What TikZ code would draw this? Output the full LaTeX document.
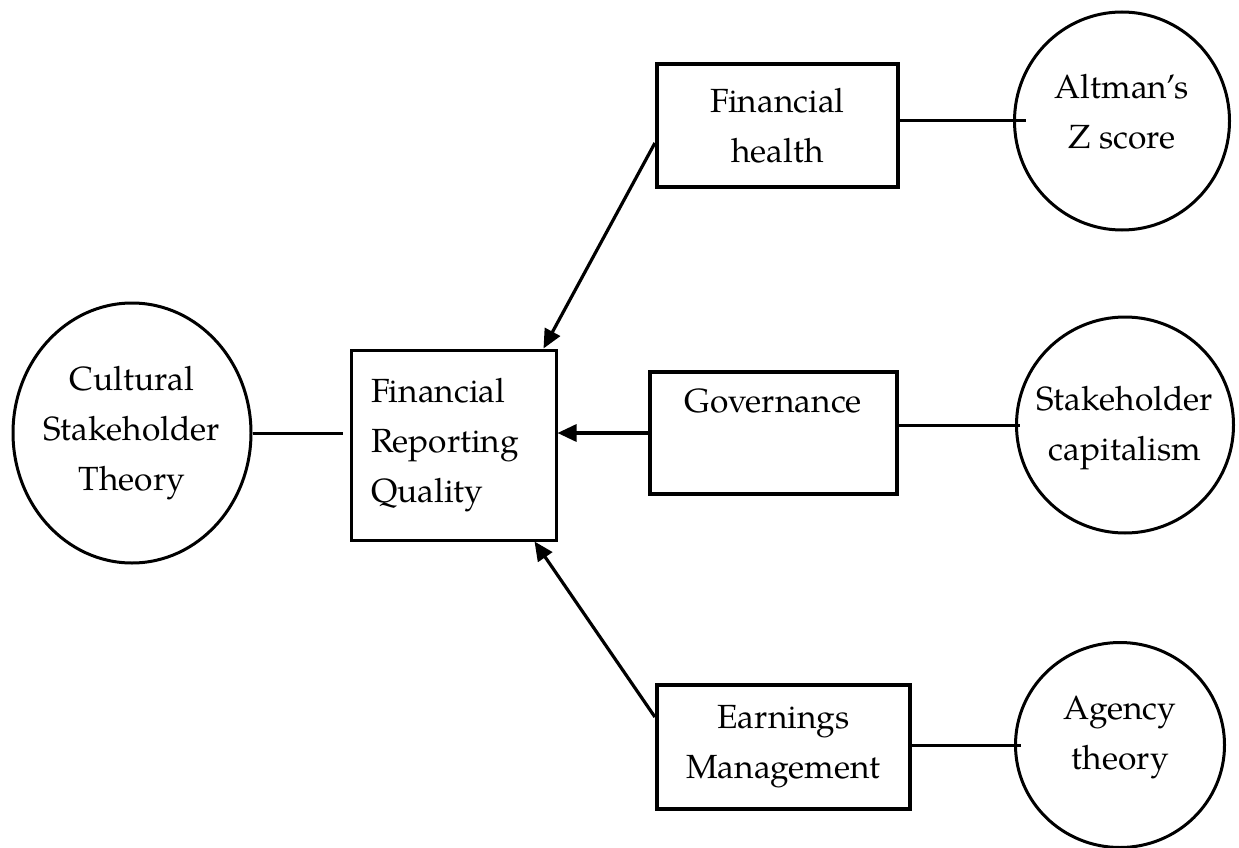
\documentclass[tikz,border=0pt]{standalone}
\usepackage{fontspec}
\setmainfont{TeX Gyre Pagella}
\usetikzlibrary{arrows.meta,shapes.geometric}

\begin{document}
\begin{tikzpicture}[x=1pt,y=-1pt,
  every node/.style={font=\fontsize{33.5}{50}\selectfont, align=center, inner sep=0pt},
  oval/.style={draw, ellipse, line width=3pt},
  box/.style={draw, rectangle, line width=4.2pt},
  link/.style={line width=3pt},
  arrowlink/.style={line width=3.2pt, -{Triangle[length=19pt,width=17pt]}}]
\useasboundingbox (0,0) rectangle (1239,848);

% theory ovals
\node[oval, minimum width=238pt, minimum height=260pt] (cst) at (132,433) {};
\node (cstt) at (cst) {Cultural\\Stakeholder\\Theory};
\node[oval, minimum width=215pt, minimum height=218pt] (alt) at (1122,121) {};
\node (altt) at (1122,112) {Altman’s\\Z score};
\node[oval, minimum width=217pt, minimum height=216pt] (sc) at (1125,425) {};
\node (sct) at (1125,428) {Stakeholder\\capitalism};
\node[oval, minimum width=209pt, minimum height=205pt] (ag) at (1120,745) {};
\node (agt) at (1120,738) {Agency\\theory};

% construct boxes
\node[box, line width=3pt, minimum width=205pt, minimum height=190pt,
      text width=165pt, inner xsep=20pt, align=left] (frq) at (453.5,445)
      {Financial\\Reporting\\Quality};
\node[box, minimum width=241pt, minimum height=123pt] (fh) at (777.5,125.5) {Financial\\health};
\node[box, minimum width=247pt, minimum height=122pt] (gov) at (773.5,433) {Governance\\\strut};
\node[box, minimum width=253pt, minimum height=124pt] (em) at (783.5,747) {Earnings\\Management};

% connectors
\draw[link, shorten >=7pt] (cst.east) -- (frq.west |- cst.east);
\draw[arrowlink] (gov.west) -- (gov.west -| frq.east);
\draw[arrowlink] ([yshift=-17.5pt]fh.west) -- ([xshift=-14pt]frq.north east);
\draw[arrowlink] ([yshift=30pt]em.west) -- ([xshift=-23pt]frq.south east);
\draw[link] (fh.east |- alt.west) -- ([xshift=13pt]alt.west);
\draw[link] (gov.east |- sc.west) -- ([xshift=5pt]sc.west);
\draw[link] (em.east |- ag.west) -- ([xshift=7pt]ag.west);
\end{tikzpicture}
\end{document}
